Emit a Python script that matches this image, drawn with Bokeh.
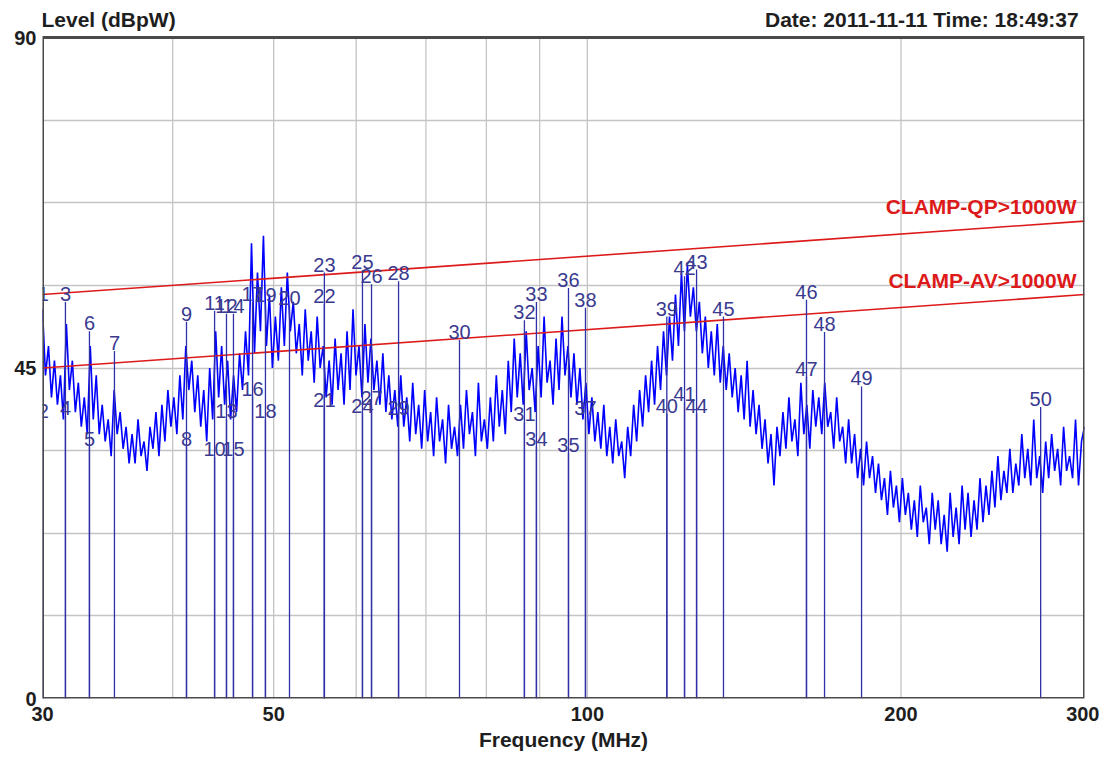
import numpy as np
from bokeh.plotting import figure
from bokeh.models import FixedTicker, BasicTickFormatter, ColumnDataSource
from bokeh.core.properties import value
from bokeh.embed import file_html
from bokeh.resources import INLINE

# ---------------- data ----------------
# scan trace (dBpW), log-spaced scan points 30..300 MHz
trace_levels = [
    53, 44, 48, 41, 46, 40, 44, 38, 51, 42,
    46, 39, 43, 37, 41, 36, 48, 38, 44, 36,
    40, 35, 38, 33, 42, 36, 39, 34, 37, 32,
    36, 32, 38, 33, 35, 31, 37, 34, 39, 33,
    40, 35, 42, 37, 41, 36, 44, 38, 48, 42,
    46, 39, 44, 37, 42, 35, 45, 38, 50, 41,
    48, 40, 46, 38, 44, 39, 47, 42, 50, 44,
    62, 47, 58, 50, 63, 48, 55, 45, 52, 46,
    56, 48, 58, 50, 54, 47, 51, 44, 53, 46,
    50, 43, 52, 45, 48, 41, 46, 40, 49, 42,
    47, 40, 50, 42, 53, 44, 48, 41, 51, 43,
    49, 42, 46, 40, 47, 39, 44, 38, 42, 37,
    44, 37, 41, 35, 43, 36, 40, 34, 42, 35,
    39, 33, 41, 35, 38, 32, 40, 34, 37, 33,
    40, 34, 42, 36, 39, 33, 43, 35, 38, 34,
    41, 35, 44, 37, 42, 36, 46, 39, 49, 41,
    47, 40, 50, 42, 45, 39, 48, 41, 52, 43,
    46, 40, 49, 42, 52, 44, 48, 41, 47, 40,
    45, 38, 43, 36, 41, 35, 39, 34, 40, 33,
    37, 32, 38, 33, 35, 30, 37, 33, 40, 35,
    42, 37, 44, 39, 46, 40, 48, 42, 50, 44,
    52, 46, 55, 48, 58, 50, 59, 52, 56, 50,
    54, 47, 52, 45, 50, 44, 51, 43, 48, 42,
    47, 41, 45, 39, 44, 38, 46, 37, 42, 36,
    40, 34, 38, 32, 36, 29, 37, 33, 39, 34,
    41, 35, 38, 33, 43, 36, 40, 34, 42, 37,
    41, 36, 43, 37, 39, 34, 41, 35, 37, 32,
    38, 32, 36, 30, 34, 29, 35, 30, 33, 28,
    32, 27, 30, 25, 31, 26, 29, 24, 30, 25,
    28, 23, 27, 22, 29, 24, 26, 21, 28, 23,
    27, 21, 25, 20, 28, 22, 26, 21, 29, 23,
    28, 22, 27, 23, 30, 24, 29, 25, 31, 26,
    33, 27, 31, 28, 34, 28, 32, 29, 36, 30,
    34, 29, 38, 30, 33, 28, 35, 30, 36, 31,
    34, 29, 37, 31, 33, 30, 38, 29, 35, 37,
]
trace_freqs = np.geomspace(30, 300, len(trace_levels))

marker_ids = [str(i) for i in range(1, 51)]
marker_freqs = [
    30.05, 30.05, 31.56, 31.56, 33.28, 33.28, 35.17, 41.24, 41.24, 43.88,
    43.88, 45.05, 45.05, 45.75, 45.75, 47.72, 47.72, 49.10, 49.10, 51.78,
    55.93, 55.93, 55.93, 60.84, 60.84, 62.07, 62.07, 65.89, 65.89, 75.39,
    87.02, 87.02, 89.36, 89.36, 95.92, 95.92, 99.59, 99.59, 119.2, 119.2,
    123.96, 123.96, 127.3, 127.3, 135.1, 162.3, 162.3, 168.9, 183.3, 272.3,
]
marker_levels = [
    54.0, 38.0, 54.0, 38.5, 34.3, 50.0, 47.3, 34.3, 51.3, 32.9,
    52.8, 52.4, 38.0, 52.4, 32.9, 41.1, 54.0, 38.0, 53.8, 53.5,
    39.6, 53.7, 58.0, 38.8, 58.3, 56.4, 39.8, 56.8, 38.4, 48.8,
    37.6, 51.5, 54.0, 34.3, 33.4, 55.9, 38.5, 53.2, 52.0, 38.8,
    40.4, 57.5, 58.4, 38.8, 52.0, 54.3, 43.8, 49.9, 42.5, 39.7,
]

limit_freqs = [30, 300]
qp_limit = [55, 65]
av_limit = [45, 55]
qp_name = "CLAMP-QP>1000W"
av_name = "CLAMP-AV>1000W"

y_title = "Level (dBpW)"
date_text = "Date: 2011-11-11  Time: 18:49:37"
x_title = "Frequency (MHz)"

x_range = [30, 300]
y_range = [0, 90]
x_ticks = [30, 50, 100, 200, 300]
x_grid = [40, 50, 60, 70, 80, 90, 100, 200]
y_ticks = [0, 45, 90]
y_grid = [11.25, 22.5, 33.75, 45, 56.25, 67.5, 78.75]

# ---------------- figure ----------------
FONT = "Liberation Sans"
TOP_PAD = 4.77   # extra room above 90 dB for the header texts (in dB units)
p = figure(width=1099, height=757, x_axis_type="log", x_range=(x_range[0], x_range[1]),
           y_range=(y_range[0], y_range[1] + TOP_PAD),
           output_backend="svg", toolbar_location=None, title=None,
           min_border_left=42, min_border_right=15, min_border_top=2, min_border_bottom=59)
p.background_fill_color = "white"
p.border_fill_color = "white"
p.outline_line_color = None

p.xaxis.ticker = FixedTicker(ticks=x_ticks)
p.xaxis.formatter = BasicTickFormatter()
p.yaxis.ticker = FixedTicker(ticks=y_ticks)
p.xgrid.visible = False
p.ygrid.ticker = FixedTicker(ticks=y_grid)
p.ygrid.grid_line_color = "#C4C4C4"
p.ygrid.grid_line_width = 1.3

for ax in (p.xaxis, p.yaxis):
    ax.axis_line_color = None
    ax.major_tick_line_color = None
    ax.minor_tick_line_color = None
    ax.major_tick_out = 0
    ax.major_tick_in = 0
    ax.major_label_text_font = FONT
    ax.major_label_text_font_style = "bold"
    ax.major_label_text_font_size = "20px"
    ax.major_label_text_color = "#1E1E1E"
p.xaxis.major_label_standoff = 8
p.yaxis.major_label_standoff = 6
p.xaxis.axis_label = x_title
p.xaxis.axis_label_standoff = 4
p.xaxis.axis_label_text_font = FONT
p.xaxis.axis_label_text_font_style = "bold"
p.xaxis.axis_label_text_font_size = "21px"
p.xaxis.axis_label_text_color = "#1E1E1E"

# vertical grid lines (stop at the 90 dB frame top)
p.segment(x0=x_grid, y0=y_range[0], x1=x_grid, y1=y_range[1], line_color="#C4C4C4", line_width=1.3)

# trace
p.line(trace_freqs, trace_levels, line_color="#0000FF", line_width=1.6)

# limits
p.line(limit_freqs, qp_limit, line_color="#DD1A1A", line_width=1.6)
p.line(limit_freqs, av_limit, line_color="#DD1A1A", line_width=1.6)

# markers
msrc = ColumnDataSource(dict(f=marker_freqs, lvl=marker_levels, id=marker_ids))
p.segment(x0="f", y0=0, x1="f", y1="lvl", source=msrc, line_color="#3030A8", line_width=1.3)
p.text(x="f", y="lvl", text="id", source=msrc, text_align="center", text_baseline="bottom",
       y_offset=-1, text_font=value(FONT), text_font_size=value("20px"), text_color="#3A3A90")

# frame border around the 30..300 MHz x 0..90 dB area
p.line([x_range[0], x_range[1], x_range[1], x_range[0], x_range[0]],
       [y_range[0], y_range[0], y_range[1], y_range[1], y_range[0]],
       line_color="#4A4A4A", line_width=3)

# header texts and limit names
bold = dict(text_font=value(FONT), text_font_style="bold", text_font_size=value("21px"))
p.text(x=[x_range[0]], y=[y_range[1]], text=[y_title], text_align="left", text_baseline="bottom",
       x_offset=-1, y_offset=-7, text_color="#1E1E1E", **bold)
p.text(x=[x_range[1]], y=[y_range[1]], text=[date_text], text_align="right", text_baseline="bottom",
       x_offset=0, y_offset=-7, text_color="#1E1E1E", **bold)
p.text(x=[x_range[1]], y=[qp_limit[1]], text=[qp_name], text_align="right", text_baseline="bottom",
       x_offset=-8, y_offset=-3, text_color="#DD1A1A", **bold)
p.text(x=[x_range[1]], y=[av_limit[1]], text=[av_name], text_align="right", text_baseline="bottom",
       x_offset=-8, y_offset=-3, text_color="#DD1A1A", **bold)

open("out.html", "w").write(file_html(p, INLINE))
